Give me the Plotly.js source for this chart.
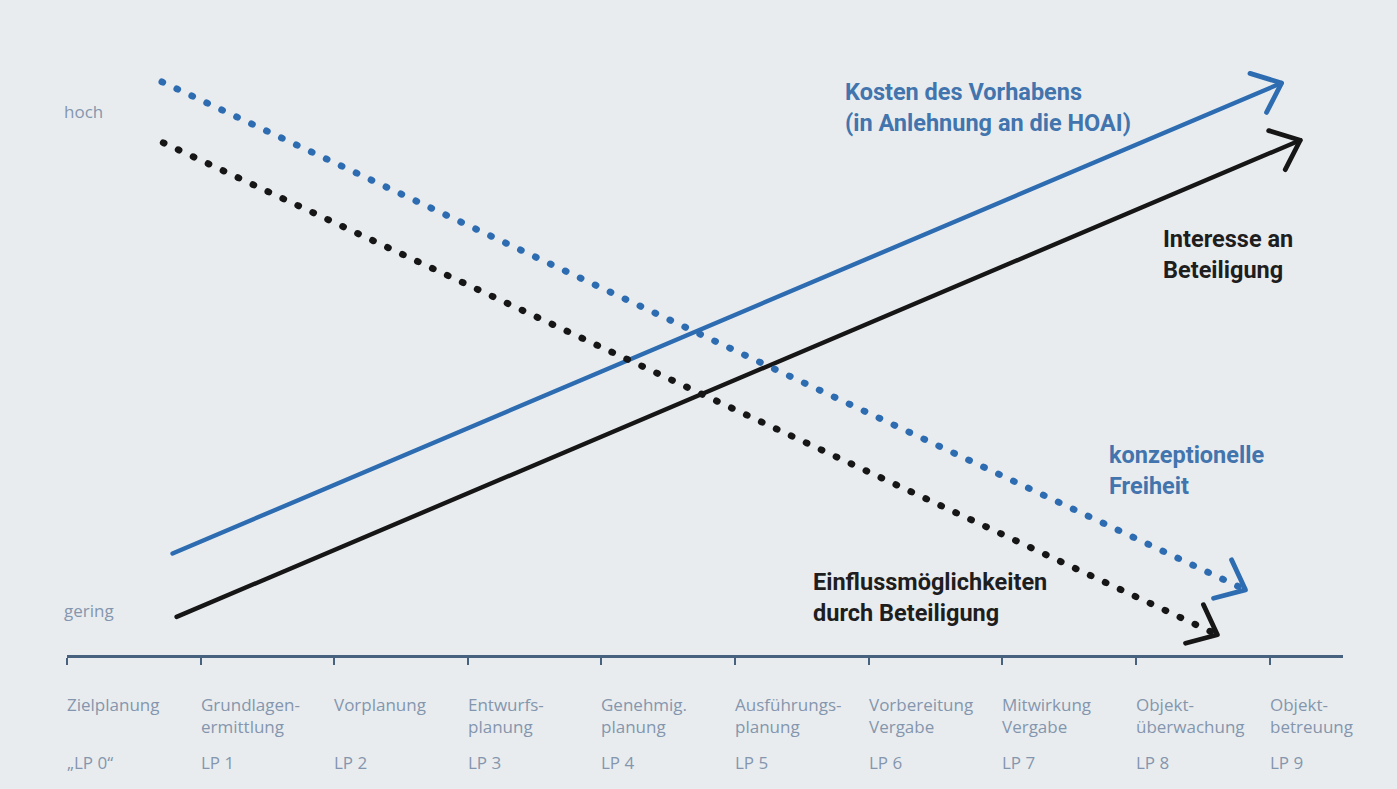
<!DOCTYPE html>
<html>
<head>
<meta charset="utf-8">
<script src="https://cdn.plot.ly/plotly-3.0.1.min.js"></script>
<style>
  html, body { margin: 0; padding: 0; background: #e9ecef; }
  #chart { width: 1397px; height: 789px; }
  .scatterlayer .js-line { stroke-linecap: round; stroke-linejoin: round; }
</style>
</head>
<body>
<div id="chart"></div>
<script>
// ---- data ----
const stagePos = [0, 1, 2, 3, 4, 5, 6, 7, 8, 9];
const stageNames = [
  "Zielplanung", "Grundlagen-<br>ermittlung", "Vorplanung", "Entwurfs-<br>planung",
  "Genehmig.<br>planung", "Ausführungs-<br>planung", "Vorbereitung<br>Vergabe",
  "Mitwirkung<br>Vergabe", "Objekt-<br>überwachung", "Objekt-<br>betreuung"
];
const phaseLabels = ["„LP 0“", "LP 1", "LP 2", "LP 3", "LP 4", "LP 5", "LP 6", "LP 7", "LP 8", "LP 9"];
const levelVals = [0.073, 0.883];
const levelLabels = ["gering", "hoch"];

const kostenX = [0.79, 9.09];
const kostenY = [0.165, 0.930];
const interesseX = [0.82, 9.23];
const interesseY = [0.062, 0.837];
const freiheitX = [0.71, 8.82];
const freiheitY = [0.932, 0.106];
const einflussX = [0.72, 8.61];
const einflussY = [0.833, 0.033];

const seriesNames = [
  "Kosten des Vorhabens<br>(in Anlehnung an die HOAI)",
  "Interesse an<br>Beteiligung",
  "konzeptionelle<br>Freiheit",
  "Einflussmöglichkeiten<br>durch Beteiligung"
];

// ---- styling / layout ----
const W = 1397, H = 789;
const M = {l: 67, r: 54, t: 40, b: 134};
const xRange = [0, 9.55], yRange = [0, 1];
const kx = (W - M.l - M.r) / (xRange[1] - xRange[0]);
const ky = (H - M.t - M.b) / (yRange[1] - yRange[0]);

const BLUE = '#2d6cb1', BLACK = '#161616';
const BLUE_TXT = '#4274ad', BLACK_TXT = '#1e1e1e';
const GREY_TXT = '#8496ad', AXIS = '#46627f';
const TICK_FONT = 'Open Sans, sans-serif';

const series = [
  {x: kostenX, y: kostenY, color: BLUE, dash: 'solid', w: 4.4},
  {x: interesseX, y: interesseY, color: BLACK, dash: 'solid', w: 4.4},
  {x: freiheitX, y: freiheitY, color: BLUE, dash: '1px,15.5px', w: 6.8},
  {x: einflussX, y: einflussY, color: BLACK, dash: '1px,15.5px', w: 6.8}
];

// chevron arrow head built from the last two points of each series via the axis scale
function chevron(xs, ys) {
  const n = xs.length;
  const x1 = xs[n - 1], y1 = ys[n - 1], x0 = xs[n - 2], y0 = ys[n - 2];
  let dx = (x0 - x1) * kx, dy = (y0 - y1) * ky;
  const len = Math.hypot(dx, dy); dx /= len; dy /= len;
  const L = 33, a = 40 * Math.PI / 180;
  const pts = [a, -a].map(t => {
    const rx = dx * Math.cos(t) - dy * Math.sin(t);
    const ry = dx * Math.sin(t) + dy * Math.cos(t);
    return [x1 + rx * L / kx, y1 + ry * L / ky];
  });
  return {x: [pts[0][0], x1, pts[1][0]], y: [pts[0][1], y1, pts[1][1]]};
}

const traces = [];
series.forEach(s => {
  traces.push({x: s.x, y: s.y, mode: 'lines', hoverinfo: 'skip', showlegend: false,
    line: {color: s.color, width: s.w, dash: s.dash}});
});
series.forEach(s => {
  const c = chevron(s.x, s.y);
  traces.push({x: c.x, y: c.y, mode: 'lines', hoverinfo: 'skip', showlegend: false,
    line: {color: s.color, width: 4.8}});
});

const labelFont = (c) => ({family: 'Roboto, sans-serif', size: 23.5, color: c, weight: 700});
const annotations = [
  {x: 5.81, y: 0.942, text: seriesNames[0], font: labelFont(BLUE_TXT)},
  {x: 8.19, y: 0.702, text: seriesNames[1], font: labelFont(BLACK_TXT)},
  {x: 7.78, y: 0.352, text: seriesNames[2], font: labelFont(BLUE_TXT)},
  {x: 5.57, y: 0.144, text: seriesNames[3], font: labelFont(BLACK_TXT)}
].map(a => Object.assign({xref: 'x', yref: 'y', xanchor: 'left', yanchor: 'top',
  align: 'left', showarrow: false}, a));

const tickFont = {family: TICK_FONT, size: 17, color: GREY_TXT};
stageNames.forEach((t, i) => {
  annotations.push({x: stagePos[i], y: 0, xref: 'x', yref: 'y', text: t,
    xanchor: 'left', yanchor: 'top', yshift: -36, xshift: -2, showarrow: false, align: 'left',
    font: tickFont});
});
phaseLabels.forEach((t, i) => {
  annotations.push({x: stagePos[i], y: 0, xref: 'x', yref: 'y', text: t,
    xanchor: 'left', yanchor: 'middle', yshift: -107, xshift: -2, showarrow: false, align: 'left',
    font: tickFont});
});
levelLabels.forEach((t, i) => {
  annotations.push({x: 0, y: levelVals[i], xref: 'paper', yref: 'y', text: t,
    xanchor: 'left', yanchor: 'middle', xshift: -5, showarrow: false, align: 'left',
    font: tickFont});
});

const layout = {
  width: W, height: H,
  margin: M,
  paper_bgcolor: '#e9ecef', plot_bgcolor: '#e9ecef',
  showlegend: false,
  xaxis: {
    range: xRange, showgrid: false, zeroline: false,
    showline: true, linecolor: AXIS, linewidth: 2.5,
    ticks: 'outside', ticklen: 7, tickwidth: 2, tickcolor: AXIS,
    tickvals: stagePos, showticklabels: false,
    fixedrange: true
  },
  yaxis: {
    range: yRange, showgrid: false, zeroline: false, showline: false,
    ticks: '', showticklabels: false,
    fixedrange: true
  },
  annotations: annotations
};

Plotly.newPlot('chart', traces, layout, {displayModeBar: false, staticPlot: true});
</script>
</body>
</html>
